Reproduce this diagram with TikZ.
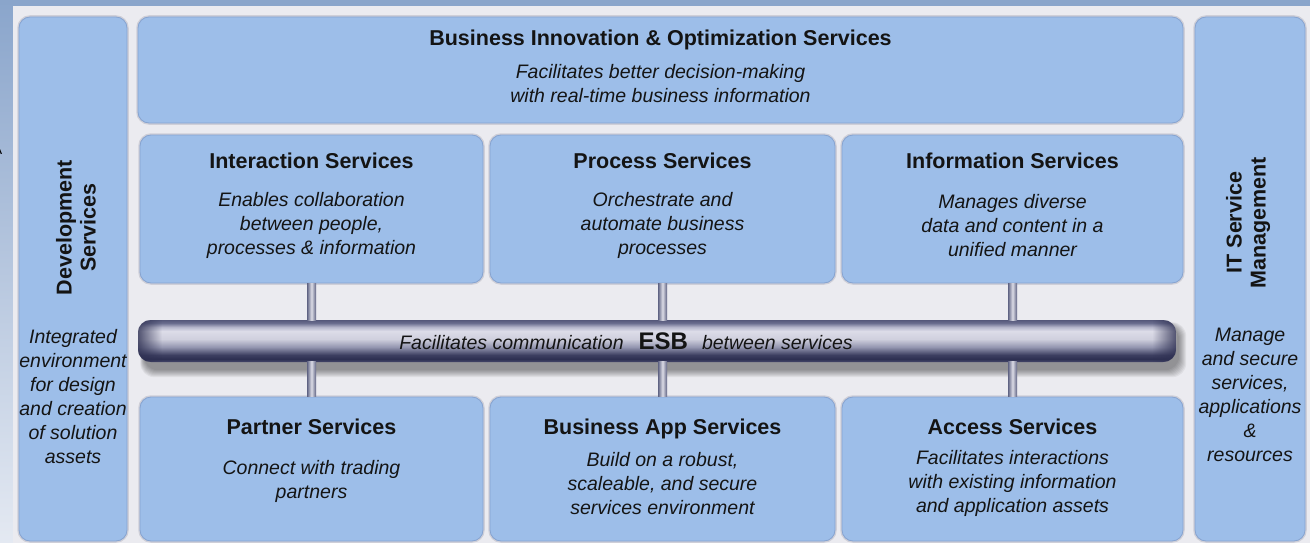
\documentclass[tikz,border=0pt]{standalone}
\usepackage{fontspec}
\setmainfont{Liberation Sans}
\usetikzlibrary{calc,fadings}
\definecolor{topblue}{HTML}{8AA5CB}
\definecolor{leftT}{HTML}{8BA6CC}
\definecolor{leftB}{HTML}{E4E9F2}
\definecolor{panel}{HTML}{EBEBF0}
\definecolor{boxfill}{HTML}{9DBEE9}
\definecolor{boxline}{HTML}{86A3D0}
\definecolor{halo}{HTML}{CFCFD8}
\definecolor{pipeE}{HTML}{5F6383}
\definecolor{pipeL}{HTML}{DCDCE6}
\definecolor{txt}{HTML}{141414}
\definecolor{esbC1}{HTML}{55587A}
\definecolor{esbC2}{HTML}{6A6D8E}
\definecolor{esbC3}{HTML}{B4B5CA}
\definecolor{esbC4}{HTML}{DCDCE8}
\definecolor{esbC5}{HTML}{D0D0DE}
\definecolor{esbC6}{HTML}{9496B0}
\definecolor{esbC7}{HTML}{3C3E60}
\definecolor{esbC8}{HTML}{2E3052}
\definecolor{esbC9}{HTML}{44476A}
\pgfdeclareverticalshading{esbshade}{100bp}{color(0bp)=(esbC9); color(25bp)=(esbC9); color(28.6bp)=(esbC8); color(33.3bp)=(esbC7); color(42.9bp)=(esbC6); color(52.4bp)=(esbC5); color(61.9bp)=(esbC4); color(66.7bp)=(esbC3); color(71.4bp)=(esbC2); color(75bp)=(esbC1); color(100bp)=(esbC1)}
\pgfdeclarelayer{back}
\pgfdeclarelayer{shd}
\pgfsetlayers{back,shd,main}
\begin{document}
\begin{tikzpicture}[x=1pt,y=-1pt,
  box/.style={rounded corners=11pt, fill=boxfill, draw=boxline, line width=0.8pt,
    preaction={draw=halo, line width=3.5pt}, inner sep=0pt},
  ttl/.style={font=\bfseries\fontsize{21.5}{24}\selectfont, text=txt, align=center, inner sep=0pt},
  ttl1/.style={ttl, text height=15.5pt, text depth=4.5pt},
  bdy/.style={font=\itshape\fontsize{19.5}{24}\selectfont, text=txt, align=center, inner sep=0pt},
  pipe/.style={left color=pipeE, right color=pipeE, middle color=pipeL}]
\useasboundingbox (0,0) rectangle (1310,543);
\begin{pgfonlayer}{back}
\fill[topblue] (0,0) rectangle (1310,6);
\shade[top color=leftT, bottom color=leftB] (0,6) rectangle (13,543);
\fill[panel] (13,6) rectangle (1310,543);
\end{pgfonlayer}
\node[anchor=east, inner sep=0pt, font=\fontsize{14}{14}\selectfont] (frag) at (2.5,150) {A};

% side columns
\node[box, minimum width=108pt, minimum height=524pt] (dev) at (73,279) {};
\node[box, minimum width=110pt, minimum height=524pt] (itsm) at (1250,279) {};
% top band
\node[box, minimum width=1045pt, minimum height=106pt] (bi) at (660.5,70) {};
% middle row
\node[box, minimum width=343pt, minimum height=148pt] (inter) at (311.5,209) {};
\node[box, minimum width=345pt, minimum height=148pt] (proc) at (662.5,209) {};
\node[box, minimum width=341pt, minimum height=148pt] (info) at (1012.5,209) {};
% bottom row
\node[box, minimum width=343pt, minimum height=144pt] (partner) at (311.5,469) {};
\node[box, minimum width=345pt, minimum height=144pt] (bapp) at (662.5,469) {};
\node[box, minimum width=341pt, minimum height=144pt] (access) at (1012.5,469) {};

% ESB tube
\node[shade, shading=esbshade, rounded corners=13pt, minimum width=1038pt, minimum height=42pt, inner sep=0pt] (esb) at (657,341) {};
\begin{pgfonlayer}{shd}
\foreach \k in {0,1,...,7}
  \fill[black, opacity=0.055, rounded corners=14pt]
    ($(esb.north west)+(6-0.5*\k,6-0.5*\k)$) rectangle ($(esb.south east)+(3+\k,8+\k)$);
\end{pgfonlayer}
\begin{scope}
  \clip[rounded corners=13pt] (esb.south west) rectangle (esb.north east);
  \fill[esbC8, path fading=east, opacity=0.8] (esb.south west) rectangle ($(esb.north west)+(24,0)$);
  \fill[esbC8, path fading=west, opacity=0.8] ($(esb.south east)+(-24,0)$) rectangle (esb.north east);
\end{scope}

% connectors to the ESB
\foreach \b in {inter,proc,info}
  \shade[pipe] ($(\b.south)+(-4.5,0.5)$) rectangle ($(\b.south |- esb.north)+(4.5,1)$);
\foreach \b in {partner,bapp,access}
  \shade[pipe] ($(\b.north)+(-4.5,-0.5)$) rectangle ($(\b.north |- esb.south)+(4.5,-1)$);

% texts
\node[ttl1] (biT) at ($(bi.north)+(0,23)$) {Business Innovation \& Optimization Services};
\node[bdy] (biB) at ($(bi.north)+(0,66.5)$) {Facilitates better decision-making\\with real-time business information};

\node[ttl1] (interT) at ($(inter.north)+(0,28)$) {Interaction Services};
\node[bdy] (interB) at ($(inter.north)+(0,91)$) {Enables collaboration\\between people,\\processes \& information};
\node[ttl1] (procT) at ($(proc.north)+(0,28)$) {Process Services};
\node[bdy] (procB) at ($(proc.north)+(0,91)$) {Orchestrate and\\automate business\\processes};
\node[ttl1] (infoT) at ($(info.north)+(0,28)$) {Information Services};
\node[bdy] (infoB) at ($(info.north)+(0,91)$) {Manages diverse\\data and content in a\\unified manner};

\node[ttl1] (partnerT) at ($(partner.north)+(0,32)$) {Partner Services};
\node[bdy] (partnerB) at ($(partner.north)+(0,85)$) {Connect with trading\\partners};
\node[ttl1] (bappT) at ($(bapp.north)+(0,32)$) {Business App Services};
\node[bdy] (bappB) at ($(bapp.north)+(0,87)$) {Build on a robust,\\scaleable, and secure\\services environment};
\node[ttl1] (accessT) at ($(access.north)+(0,32)$) {Access Services};
\node[bdy] (accessB) at ($(access.north)+(0,87)$) {Facilitates interactions\\with existing information\\and application assets};

\node[ttl, rotate=90] (devT) at ($(dev.north)+(3,211)$) {Development\\Services};
\node[bdy] (devB) at ($(dev.north)+(0,380)$) {Integrated\\environment\\for design\\and creation\\of solution\\assets};
\node[ttl, rotate=90] (itsmT) at ($(itsm.north)+(-2,206)$) {IT Service\\Management};
\node[bdy] (itsmB) at ($(itsm.north)+(0,378.5)$) {Manage\\and secure\\services,\\applications\\\&\\resources};

\node[inner sep=0pt, text=txt] (esbT) at ($(esb.center)+(-31,0)$)
  {{\itshape\fontsize{19.5}{24}\selectfont Facilitates communication}\hspace{15pt}{\bfseries\fontsize{24}{24}\selectfont ESB}\hspace{14pt}{\itshape\fontsize{19.5}{24}\selectfont between services}};
\end{tikzpicture}
\end{document}
